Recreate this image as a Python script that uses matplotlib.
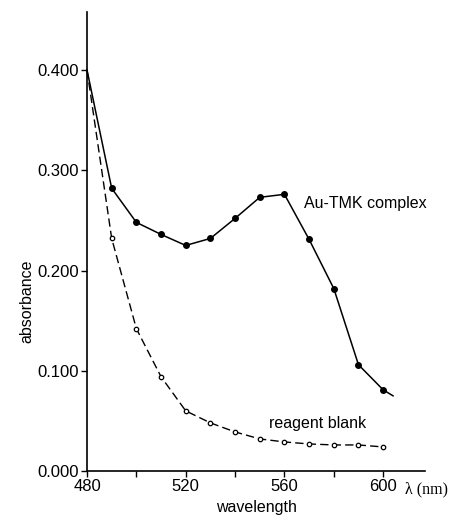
import numpy as np
from matplotlib import pyplot as plt
from matplotlib.ticker import MultipleLocator, FuncFormatter

# wavelengths (nm)
wavelength = [480, 490, 500, 510, 520, 530, 540, 550, 560, 570, 580, 590, 600]

# absorbance readings
au_tmk = [0.400, 0.282, 0.248, 0.236, 0.225, 0.232, 0.252, 0.273, 0.276,
          0.231, 0.182, 0.106, 0.081]
blank = [0.400, 0.232, 0.142, 0.094, 0.060, 0.048, 0.039, 0.032, 0.029,
         0.027, 0.026, 0.026, 0.024]

# the solid curve runs a little past the last point
au_tail_x = [600, 604]
au_tail_y = [0.081, 0.075]

plt.rcParams['font.family'] = ['Liberation Sans', 'DejaVu Sans']

fig = plt.figure(figsize=(4.52, 5.2), dpi=100)
ax = fig.add_axes([0.1925, 0.0942, 0.748, 0.883])

# no marker on the 480 nm starting value
marks = list(range(1, len(wavelength)))
ax.plot(wavelength, au_tmk, color="black", lw=1.1, marker="o", ms=4.0,
        mfc="black", mec="black", markevery=marks, clip_on=False, zorder=3)
ax.plot(au_tail_x, au_tail_y, color="black", lw=1.1, clip_on=False)
ax.plot(wavelength, blank, color="black", lw=1.0, ls=(0, (6, 3)),
        marker="o", ms=3.2, mfc="white", mec="black", mew=0.9,
        markevery=marks, clip_on=False, zorder=3)

ax.set_xlim(480, 617)
ax.set_ylim(0, 0.458)

ax.spines["top"].set_visible(False)
ax.spines["right"].set_visible(False)
ax.spines["left"].set_linewidth(1.2)
ax.spines["bottom"].set_linewidth(1.2)

ax.xaxis.set_major_locator(MultipleLocator(20))
ax.xaxis.set_major_formatter(FuncFormatter(lambda v, p: "%d" % v if int(round(v)) % 40 == 0 and v <= 600 else ""))
ax.yaxis.set_major_locator(MultipleLocator(0.1))
ax.yaxis.set_major_formatter(FuncFormatter(lambda v, p: "%.3f" % v))
ax.tick_params(axis="both", direction="out", length=4, width=1, labelsize=12, pad=2)

ax.text(567.8, 0.267, "Au-TMK complex", fontsize=11.5, va="center", ha="left")
ax.text(553.6, 0.047, "reagent blank", fontsize=11.5, va="center", ha="left")
ax.text(609, -0.018, "λ (nm)", fontsize=11.5, va="center", ha="left",
        family=["Liberation Serif", "DejaVu Serif"], clip_on=False)

ax.set_xlabel("wavelength", fontsize=11.5, labelpad=4)
ax.set_ylabel("absorbance", fontsize=11.5, labelpad=8)
ax.yaxis.set_label_coords(-0.155, 0.37)

fig.savefig("out.png", dpi=100)
